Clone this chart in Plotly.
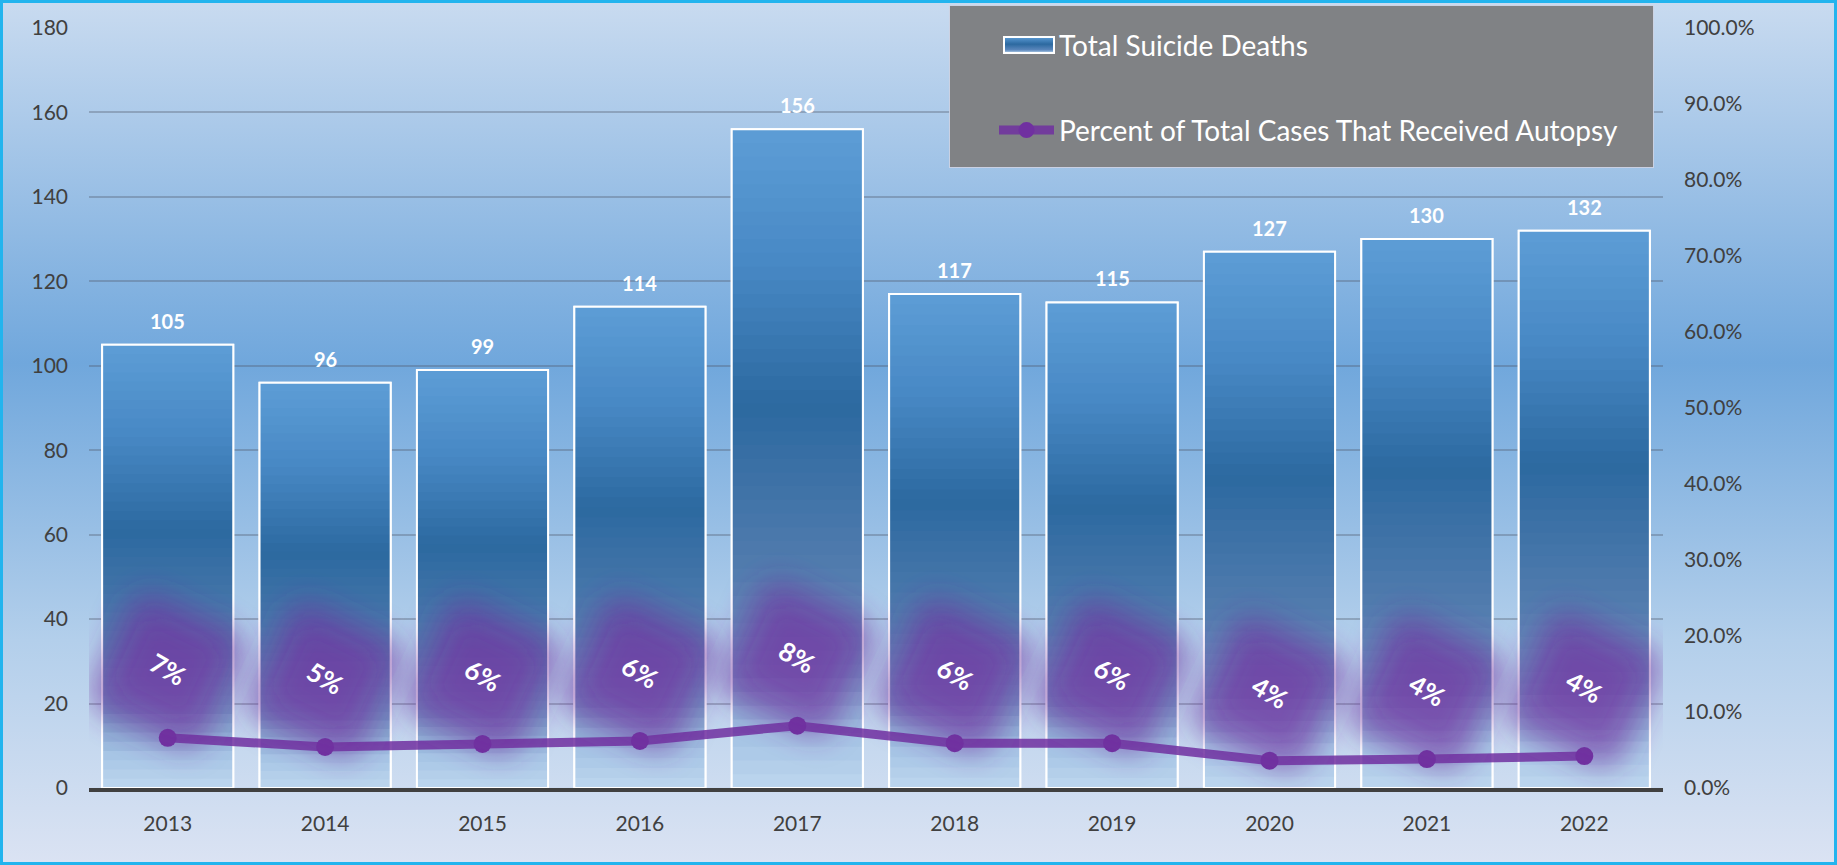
import base64
import plotly.graph_objects as go

# ---------------- data ----------------
years = ["2013", "2014", "2015", "2016", "2017", "2018", "2019", "2020", "2021", "2022"]
deaths = [105, 96, 99, 114, 156, 117, 115, 127, 130, 132]
autopsy_pct = [6.6, 5.4, 5.8, 6.2, 8.2, 5.9, 5.9, 3.6, 3.8, 4.2]
left_ticks = [0, 20, 40, 60, 80, 100, 120, 140, 160, 180]
right_ticks = [0, 10, 20, 30, 40, 50, 60, 70, 80, 90, 100]
bar_name = "Total Suicide Deaths"
line_name = "Percent of Total Cases That Received Autopsy"

xpos = list(range(len(years)))
right_labels = [f"{t:.1f}%" for t in right_ticks]

# ---------------- layout geometry ----------------
W, H = 1837, 865
ML, MR, MT, MB = 89, 174, 28, 77
PW, PH = W - ML - MR, H - MT - MB
X_UNIT = PW / len(years)      # px per category
Y2_UNIT = PH / 100.0          # px per percent


def px_x(x):
    return (x - ML) / PW


def px_y(y):
    return (H - MB - y) / PH


def svg_uri(svg):
    return "data:image/svg+xml;base64," + base64.b64encode(svg.encode()).decode()


FONT = "Lato"
TICK_COLOR = "#404040"
PURPLE = "#7030a0"

# bar gradient (fraction of bar height from the bottom -> colour)
bar_stops = [
    (0.00, (189, 215, 238)),
    (0.07, (168, 198, 230)),
    (0.18, (112, 146, 192)),
    (0.33, (82, 124, 174)),
    (0.58, (44, 105, 160)),
    (0.80, (72, 137, 197)),
    (1.00, (93, 157, 214)),
]


def grad(f):
    for (a, ca), (b, cb) in zip(bar_stops[:-1], bar_stops[1:]):
        if a <= f <= b:
            t = (f - a) / (b - a)
            c = [round(ca[i] + (cb[i] - ca[i]) * t) for i in range(3)]
            return f"rgb({c[0]},{c[1]},{c[2]})"
    c = bar_stops[-1][1]
    return f"rgb({c[0]},{c[1]},{c[2]})"


fig = go.Figure()

# main bar trace
fig.add_trace(go.Bar(
    x=xpos, y=deaths, name=bar_name, showlegend=False,
    marker=dict(color="#3a78b8", line=dict(color="white", width=2)),
))

# gradient bands over the bars
N = 48
for k in range(N):
    f0, f1 = k / N, (k + 1) / N
    extra = 0.35 if k < N - 1 else 0.0
    fig.add_trace(go.Bar(
        x=xpos, y=[v * (f1 - f0) + extra for v in deaths],
        base=[v * f0 for v in deaths],
        marker=dict(color=grad((f0 + f1) / 2), line=dict(width=0)),
        showlegend=False, hoverinfo="skip",
    ))

# white outline on top
fig.add_trace(go.Bar(
    x=xpos, y=deaths, showlegend=False, hoverinfo="skip",
    marker=dict(color="rgba(0,0,0,0)", line=dict(color="white", width=2)),
))

# legend entry for the bars (symbol drawn as an image below)
fig.add_trace(go.Scatter(
    x=[None], y=[None], name=bar_name, mode="lines", legendgroup="a",
    line=dict(color="rgba(0,0,0,0)", width=1), hoverinfo="skip",
))

# percent line
fig.add_trace(go.Scatter(
    x=xpos, y=autopsy_pct, yaxis="y2", name=line_name, legendgroup="b",
    mode="lines+markers",
    line=dict(color="rgba(112,48,160,0.85)", width=9),
    marker=dict(size=18, color=PURPLE),
))

annotations = []
for xp, v in zip(xpos, deaths):
    annotations.append(dict(
        x=xp, y=v, xref="x", yref="y", yanchor="bottom", yshift=10,
        text=str(v), showarrow=False,
        font=dict(family=FONT, size=20, color="white", weight="bold"),
    ))
LABEL_SHIFT = 69
for xp, p in zip(xpos, autopsy_pct):
    annotations.append(dict(
        x=xp, y=p, xref="x", yref="y2", yshift=LABEL_SHIFT,
        text=f"{p:.0f}%", textangle=30, showarrow=False,
        font=dict(family=FONT, size=26, color="white", weight="bold"),
    ))

bg_svg = (
    '<svg xmlns="http://www.w3.org/2000/svg" width="100" height="100" '
    'viewBox="0 0 100 100" preserveAspectRatio="none">'
    '<defs><linearGradient id="g" x1="0" y1="0" x2="0" y2="1">'
    '<stop offset="0" stop-color="#c9dbf0"/>'
    '<stop offset="0.42" stop-color="#70a7dc"/>'
    '<stop offset="0.74" stop-color="#b3cfeb"/>'
    '<stop offset="1" stop-color="#dbe3f3"/>'
    '</linearGradient></defs>'
    '<rect width="100" height="100" fill="url(#g)"/></svg>'
)

glow_svg = (
    '<svg xmlns="http://www.w3.org/2000/svg" width="260" height="260" '
    'viewBox="0 0 260 260" preserveAspectRatio="none">'
    '<defs><filter id="b" x="-60%" y="-60%" width="220%" height="220%">'
    '<feGaussianBlur stdDeviation="14"/></filter>'
    '<filter id="c" x="-60%" y="-60%" width="220%" height="220%">'
    '<feGaussianBlur stdDeviation="10"/></filter></defs>'
    '<rect x="66" y="66" width="128" height="132" rx="28" fill="#7030a0" fill-opacity="0.6" '
    'transform="rotate(25 130 132)" filter="url(#b)"/>'
    '<rect x="92" y="92" width="76" height="76" rx="16" fill="#7030a0" fill-opacity="0.3" '
    'transform="rotate(25 130 130)" filter="url(#c)"/>'
    '</svg>'
)

legend_box_svg = (
    '<svg xmlns="http://www.w3.org/2000/svg" width="705" height="163" '
    'viewBox="0 0 705 163" preserveAspectRatio="none">'
    '<rect x="0.5" y="0.5" width="704" height="162" fill="#808285" '
    'stroke="#d7dcee" stroke-opacity="0.8" stroke-width="1"/></svg>'
)

legend_sym_svg = (
    '<svg xmlns="http://www.w3.org/2000/svg" width="52" height="18" '
    'viewBox="0 0 52 18" preserveAspectRatio="none">'
    '<defs><linearGradient id="s" x1="0" y1="0" x2="0" y2="1">'
    '<stop offset="0" stop-color="#5b9bd5"/>'
    '<stop offset="0.45" stop-color="#2c69a0"/>'
    '<stop offset="0.8" stop-color="#5a86bb"/>'
    '<stop offset="1" stop-color="#bdd7ee"/>'
    '</linearGradient></defs>'
    '<rect x="1" y="1" width="50" height="16" fill="url(#s)" stroke="white" stroke-width="2"/>'
    '</svg>'
)

images = [dict(
    source=svg_uri(bg_svg), xref="paper", yref="paper",
    x=px_x(0), y=px_y(0), sizex=W / PW, sizey=H / PH,
    xanchor="left", yanchor="top", sizing="stretch", layer="below",
)]
GLOW_PX = 260
for xp, p in zip(xpos, autopsy_pct):
    images.append(dict(
        source=svg_uri(glow_svg), xref="x", yref="y2",
        x=xp, y=p + LABEL_SHIFT / Y2_UNIT,
        sizex=GLOW_PX / X_UNIT, sizey=GLOW_PX / Y2_UNIT,
        xanchor="center", yanchor="middle", sizing="stretch", layer="above",
    ))
images.append(dict(
    source=svg_uri(legend_box_svg), xref="paper", yref="paper",
    x=px_x(949), y=px_y(5), sizex=705 / PW, sizey=163 / PH,
    xanchor="left", yanchor="top", sizing="stretch", layer="above",
))
images.append(dict(
    source=svg_uri(legend_sym_svg), xref="paper", yref="paper",
    x=px_x(1003), y=px_y(36), sizex=52 / PW, sizey=18 / PH,
    xanchor="left", yanchor="top", sizing="stretch", layer="above",
))

fig.update_layout(
    width=W, height=H,
    margin=dict(l=ML, r=MR, t=MT, b=MB, pad=0),
    barmode="overlay", bargap=0.167,
    paper_bgcolor="#a9c8e8", plot_bgcolor="rgba(0,0,0,0)",
    font=dict(family=FONT, color=TICK_COLOR),
    images=images,
    xaxis=dict(
        range=[-0.5, len(years) - 0.5], tickvals=xpos, ticktext=years,
        showline=True, linecolor=TICK_COLOR, linewidth=4,
        ticks="", showgrid=False, zeroline=False, ticklabelstandoff=14,
        tickfont=dict(family=FONT, size=21, color=TICK_COLOR),
    ),
    yaxis=dict(
        range=[0, 180], tickvals=left_ticks, showgrid=True,
        gridcolor="rgba(80,90,105,0.35)", gridwidth=1.5,
        zeroline=False, showline=False, ticks="", ticklabelstandoff=20,
        tickfont=dict(family=FONT, size=21, color=TICK_COLOR),
    ),
    yaxis2=dict(
        range=[0, 100], tickvals=right_ticks, ticktext=right_labels,
        overlaying="y", side="right", showgrid=False, zeroline=False,
        showline=False, ticks="", ticklabelstandoff=20,
        tickfont=dict(family=FONT, size=21, color=TICK_COLOR),
    ),
    legend=dict(
        x=px_x(994), y=px_y(20), xanchor="left", yanchor="top",
        bgcolor="rgba(0,0,0,0)", borderwidth=0,
        font=dict(family=FONT, size=28, color="white"),
        traceorder="grouped", tracegroupgap=46, itemwidth=55,
    ),
    shapes=[
        dict(type="rect", xref="paper", yref="paper",
             x0=px_x(1.5), x1=px_x(W - 1.5), y0=px_y(H - 1.5), y1=px_y(1.5),
             fillcolor="rgba(0,0,0,0)", line=dict(color="#22b4ee", width=3),
             layer="above"),
    ],
    annotations=annotations,
    showlegend=True,
)

fig.write_html(
    "out.html",
    config={"displayModeBar": False},
    post_script="document.body.style.margin='0';document.body.style.overflow='hidden';",
)
